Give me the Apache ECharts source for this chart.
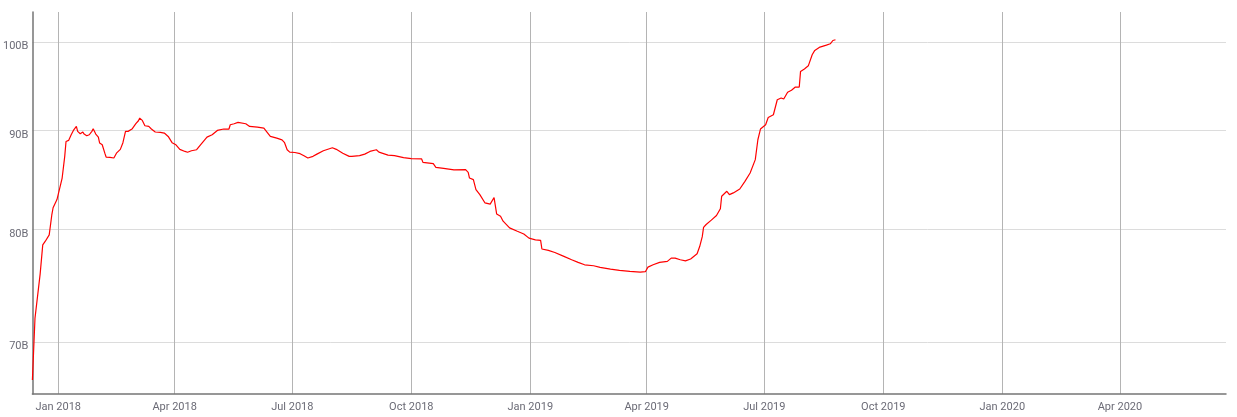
<!DOCTYPE html>
<html>
<head>
<meta charset="utf-8">
<script src="https://cdn.jsdelivr.net/npm/echarts@6/dist/echarts.min.js"></script>
<style>html,body{margin:0;padding:0;background:#fff}#c{width:1237px;height:417px}</style>
</head>
<body>
<div id="c"></div>
<script>
const dates = [
'2017-12-12','2017-12-14','2017-12-18','2017-12-20','2017-12-22','2017-12-25','2017-12-27','2017-12-28','2017-12-31',
'2018-01-01','2018-01-04','2018-01-06','2018-01-07','2018-01-09','2018-01-11','2018-01-13','2018-01-15','2018-01-16','2018-01-18','2018-01-20','2018-01-21','2018-01-23','2018-01-25','2018-01-27','2018-01-28','2018-01-30',
'2018-02-01','2018-02-02','2018-02-04','2018-02-06','2018-02-07','2018-02-10','2018-02-13','2018-02-15','2018-02-18','2018-02-20','2018-02-22','2018-02-24','2018-02-27',
'2018-03-02','2018-03-04','2018-03-05','2018-03-07','2018-03-09','2018-03-12','2018-03-14','2018-03-17','2018-03-21','2018-03-24','2018-03-27','2018-03-30',
'2018-04-02','2018-04-05','2018-04-09','2018-04-11','2018-04-14','2018-04-18','2018-04-21','2018-04-26','2018-04-30',
'2018-05-04','2018-05-09','2018-05-13','2018-05-14','2018-05-17','2018-05-20','2018-05-26','2018-05-29',
'2018-06-04','2018-06-09','2018-06-12','2018-06-14','2018-06-19','2018-06-23','2018-06-25','2018-06-27','2018-06-29',
'2018-07-03','2018-07-07','2018-07-10','2018-07-13','2018-07-17','2018-07-20','2018-07-25',
'2018-08-01','2018-08-04','2018-08-09','2018-08-14','2018-08-16','2018-08-22','2018-08-26','2018-08-30',
'2018-09-04','2018-09-06','2018-09-13','2018-09-18','2018-09-25',
'2018-10-01','2018-10-09','2018-10-10','2018-10-18','2018-10-20','2018-10-26',
'2018-11-03','2018-11-12','2018-11-14','2018-11-15','2018-11-18','2018-11-20','2018-11-23','2018-11-27',
'2018-12-01','2018-12-04','2018-12-06','2018-12-09','2018-12-11','2018-12-16','2018-12-22','2018-12-27','2018-12-31',
'2019-01-05','2019-01-09','2019-01-10','2019-01-15','2019-01-20','2019-01-27',
'2019-02-02','2019-02-07','2019-02-12','2019-02-19','2019-02-24',
'2019-03-04','2019-03-11','2019-03-19','2019-03-27','2019-03-31',
'2019-04-02','2019-04-06','2019-04-11','2019-04-17','2019-04-20','2019-04-23','2019-04-27',
'2019-05-01','2019-05-02','2019-05-05','2019-05-10','2019-05-12','2019-05-14','2019-05-15','2019-05-17','2019-05-21','2019-05-25','2019-05-28','2019-05-29',
'2019-06-02','2019-06-04','2019-06-07','2019-06-12','2019-06-16','2019-06-20','2019-06-24','2019-06-26','2019-06-28',
'2019-07-02','2019-07-04','2019-07-08','2019-07-11','2019-07-14','2019-07-16','2019-07-19','2019-07-22','2019-07-25','2019-07-28','2019-07-29',
'2019-08-01','2019-08-04','2019-08-07','2019-08-09','2019-08-13','2019-08-18','2019-08-21','2019-08-23','2019-08-25'
];
// values in billions
const values = [
66.9,72.0,75.9,78.56,78.9,79.5,81.4,82.1,82.9,
83.0,85.05,87.27,88.83,88.94,89.54,90.07,90.43,89.9,89.65,89.83,89.61,89.43,89.54,89.9,90.18,89.61,
89.29,88.66,88.48,87.6,87.2,87.17,87.1,87.6,88.0,88.7,89.9,89.9,90.15,
90.72,91.04,91.33,91.08,90.5,90.43,90.15,89.83,89.79,89.72,89.36,88.7,
88.48,88.0,87.78,87.7,87.85,87.96,88.48,89.29,89.54,
90.0,90.15,90.15,90.61,90.72,90.86,90.72,90.43,
90.36,90.25,89.72,89.36,89.18,89.0,88.7,87.96,87.71,
87.67,87.55,87.34,87.1,87.27,87.5,87.85,
88.17,88.0,87.6,87.27,87.27,87.34,87.5,87.78,
87.96,87.71,87.4,87.34,87.13,
87.03,87.0,86.65,86.51,86.14,86.03,
85.87,85.9,85.63,85.05,84.89,83.89,83.39,82.57,
82.45,83.1,81.5,81.28,80.8,80.16,79.84,79.58,79.19,
79.03,78.97,78.17,78.04,77.85,77.49,
77.18,76.94,76.72,76.63,76.48,
76.33,76.21,76.12,76.06,76.09,
76.51,76.72,76.94,77.03,77.33,77.33,77.18,
77.08,77.0,77.25,77.73,78.4,79.33,80.2,80.48,80.9,81.34,82.0,83.23,
83.72,83.39,83.56,83.95,84.72,85.56,86.93,89.01,90.15,
90.61,91.4,91.69,93.34,93.53,93.42,94.17,94.4,94.76,94.76,96.54,
96.82,97.18,98.47,98.98,99.37,99.6,99.76,100.15,100.24
];
const yTicks = [70, 80, 90, 100];
const xTicks = ['2018-01-01','2018-04-01','2018-07-01','2018-10-01','2019-01-01','2019-04-01','2019-07-01','2019-10-01','2020-01-01','2020-04-01'];
const monthNames = ['Jan','Feb','Mar','Apr','May','Jun','Jul','Aug','Sep','Oct','Nov','Dec'];

function ts(s){ const p = s.split('-').map(Number); return new Date(p[0], p[1]-1, p[2]).getTime(); }
const seriesData = dates.map((d,i)=>[ts(d), values[i]]);
const xTickTs = xTicks.map(ts);

const chart = echarts.init(document.getElementById('c'), null, {renderer:'canvas'});
chart.setOption({
  animation:false,
  backgroundColor:'#fff',
  grid:{left:32, right:11, top:12, bottom:23, containLabel:false},
  xAxis:{
    type:'value',
    min: ts('2017-12-12'),
    max: ts('2020-06-22'),
    axisLine:{show:true, lineStyle:{color:'#757575', width:1.5}},
    axisTick:{show:false, customValues:xTickTs},
    axisLabel:{
      customValues:xTickTs,
      color:'#6b6b76', fontFamily:'Roboto', fontSize:11, margin:8,
      formatter:function(v){ const d=new Date(v); return monthNames[d.getMonth()]+' '+d.getFullYear(); }
    },
    splitLine:{show:true, lineStyle:{color:'#b4b4b4', width:1}}
  },
  yAxis:{
    type:'log',
    logBase:10,
    min:65.8,
    max:103.6,
    axisLine:{show:true, lineStyle:{color:'#757575', width:1.5}},
    axisTick:{show:false, customValues:yTicks},
    axisLabel:{
      customValues:yTicks,
      color:'#6b6b76', fontFamily:'Roboto', fontSize:11, margin:4,
      verticalAlign:'top', lineHeight:9,
      formatter:function(v){ return Math.round(v)+'B'; }
    },
    splitLine:{show:true, lineStyle:{color:'#dcdcdc', width:1}}
  },
  series:[{
    type:'line',
    data:seriesData,
    showSymbol:false,
    symbol:'none',
    lineStyle:{color:'#ff0000', width:1.2},
    itemStyle:{color:'#ff0000'}
  }]
});
</script>
</body>
</html>
